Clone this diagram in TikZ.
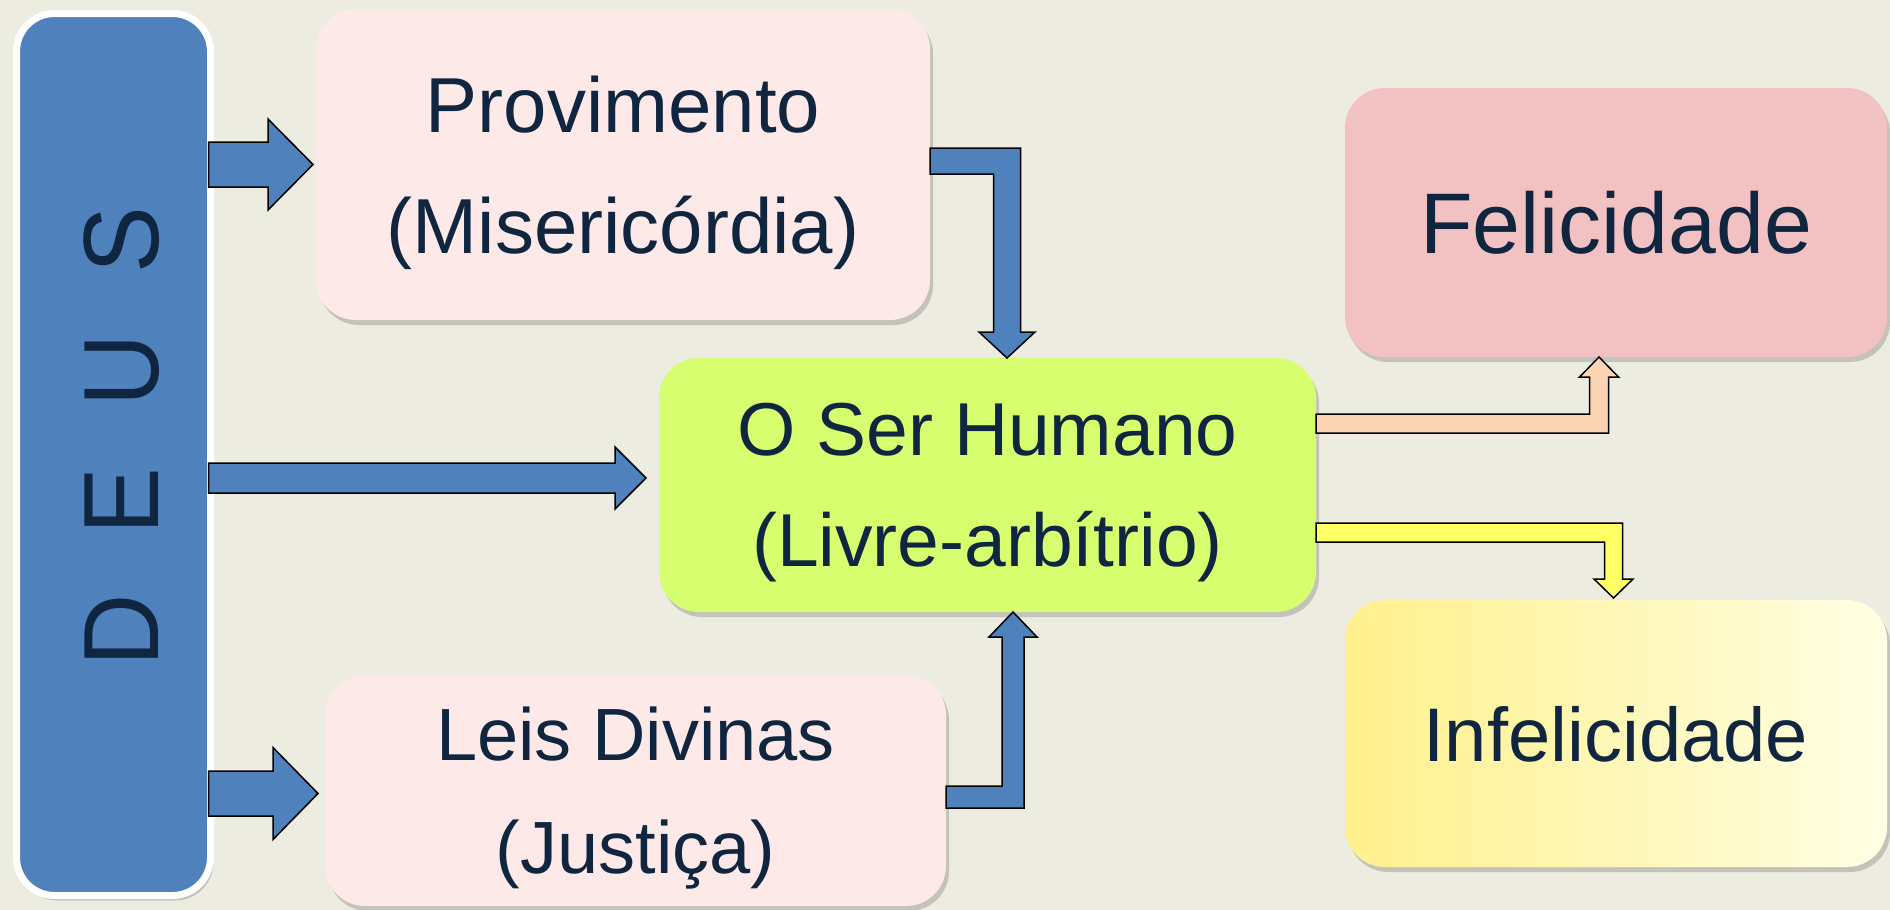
\documentclass[tikz,border=0pt]{standalone}
\usepackage{fontspec}
\setmainfont{Liberation Sans}
\usetikzlibrary{calc,shadows}

\definecolor{fundo}{RGB}{237,236,224}
\definecolor{azul}{RGB}{79,129,189}
\definecolor{tinta}{RGB}{16,37,63}
\definecolor{rosa}{RGB}{253,233,231}
\definecolor{rosaforte}{RGB}{242,194,194}
\definecolor{verde}{RGB}{214,254,110}
\definecolor{amareloA}{RGB}{255,240,140}
\definecolor{amareloB}{RGB}{255,255,228}
\definecolor{pessego}{RGB}{251,212,180}
\definecolor{amarelo}{RGB}{255,255,102}

\newcommand{\fonteDeus}{\fontsize{100}{100}\selectfont\spaceskip 60.6pt\relax}

\tikzset{every picture/.style={line width=1.5pt}}
\tikzset{
  caixa/.style={rectangle, rounded corners=40pt, inner sep=0pt, outer sep=0pt,
    align=center, text=tinta, text depth=0pt,
    drop shadow={shadow xshift=3pt, shadow yshift=-5pt, fill=black!60, opacity=.3}},
  seta/.style={draw=black, line width=1.5pt, line join=miter, fill=#1},
}

% straight block arrow: colour, start, tip, half shaft, half head, head length
\newcommand{\setareta}[6]{%
  \draw[seta=#1] ($(#2)+(0,-#4)$) -- ($(#3)+(-#6,-#4)$) -- ($(#3)+(-#6,-#5)$) -- (#3)
    -- ($(#3)+(-#6,#5)$) -- ($(#3)+(-#6,#4)$) -- ($(#2)+(0,#4)$) -- cycle;}
% bent block arrow: colour, start, tip, half bar (signed), half shaft, half head, head length (signed)
\newcommand{\setadobrada}[7]{%
  \draw[seta=#1] ($(#2)+(0,{-(#4)})$) -- ($(#3 |- #2)+(#5,{-(#4)})$) -- ($(#3)+(#5,{-(#7)})$)
    -- ($(#3)+(#6,{-(#7)})$) -- (#3) -- ($(#3)+({-(#6)},{-(#7)})$) -- ($(#3)+({-(#5)},{-(#7)})$)
    -- ($(#3 |- #2)+({-(#5)},#4)$) -- ($(#2)+(0,#4)$) -- cycle;}

\begin{document}
\begin{tikzpicture}[x=1pt,y=1pt,yscale=-1]
\fill[fundo] (0,0) rectangle (1890,910);
\useasboundingbox (0,0) rectangle (1890,910);

%Rounded Rect
\node[caixa, fill=azul, draw=white, line width=7pt, rounded corners=38pt,
  minimum width=194pt, minimum height=882pt] (deus) at (113.5,454.5) {};
% Text Node
\node[rotate=90, yscale=1.07, text=tinta, inner sep=0pt, outer sep=0pt, text depth=0pt,
  font=\fonteDeus] (deusletras) at (121.5,437) {D E U S};

%Rounded Rect
\node[caixa, fill=rosa, minimum width=614pt, minimum height=311pt,
  font=\fontsize{78}{121}\selectfont] (prov) at (623,164.5) {Provimento\\(Misericórdia)};
%Rounded Rect
\node[caixa, fill=rosa, minimum width=621pt, minimum height=231pt,
  font=\fontsize{74}{113}\selectfont] (leis) at (635.5,790.5) {Leis Divinas\\(Justiça)};
%Rounded Rect
\node[caixa, fill=verde, minimum width=657pt, minimum height=254pt,
  font=\fontsize{75}{111}\selectfont] (humano) at (987.5,485) {O Ser Humano\\(Livre-arbítrio)};
%Rounded Rect
\node[caixa, fill=rosaforte, minimum width=542pt, minimum height=269pt,
  font=\fontsize{86}{100}\selectfont] (feliz) at (1616,222.5) {Felicidade};
%Rounded Rect
\node[caixa, left color=amareloA, right color=amareloB, minimum width=542pt, minimum height=267pt,
  font=\fontsize{76}{100}\selectfont] (infeliz) at (1616,733.5) {Infelicidade};

%Block Arrows
\coordinate (a1) at ($(deus.east |- prov.west)+(-2,0)$);
\coordinate (b1) at ($(prov.west)+(-3,0)$);
\setareta{azul}{a1}{b1}{22.5}{45.5}{45}
\coordinate (b2) at ($(humano.west)+(-13,-7)$);
\coordinate (a2) at ($(deus.east |- b2)+(-2,0)$);
\setareta{azul}{a2}{b2}{15}{31}{31}
\coordinate (b3) at ($(leis.west)+(-7,3)$);
\coordinate (a3) at ($(deus.east |- b3)+(-2,0)$);
\setareta{azul}{a3}{b3}{22.5}{46}{45}

%Bent Arrows
\coordinate (c1) at ($(prov.east)+(0,-3.5)$);
\coordinate (d1) at ($(humano.north)+(19.5,0)$);
\setadobrada{azul}{c1}{d1}{13}{13.5}{28}{26}
\coordinate (c2) at ($(leis.east)+(0,6.5)$);
\coordinate (d2) at ($(humano.south)+(25.5,0)$);
\setadobrada{azul}{c2}{d2}{-11}{11}{24}{-25}
\coordinate (c3) at ($(humano.east)+(0,-61.5)$);
\coordinate (d3) at ($(feliz.south)+(-17,0)$);
\setadobrada{pessego}{c3}{d3}{-9.5}{9.5}{19.5}{-20}
\coordinate (c4) at ($(humano.east)+(0,47.5)$);
\coordinate (d4) at ($(infeliz.north)+(-2.5,-2)$);
\setadobrada{amarelo}{c4}{d4}{9.5}{9}{19.5}{19}

\end{tikzpicture}
\end{document}
